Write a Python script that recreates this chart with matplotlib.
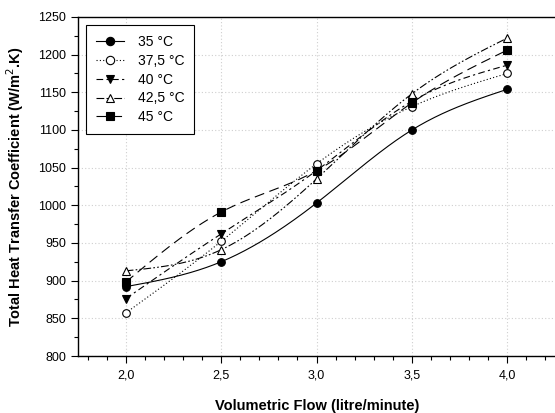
import matplotlib
matplotlib.use("Agg")
import matplotlib.pyplot as plt
import numpy as np
from matplotlib.ticker import MultipleLocator, FuncFormatter

plt.rcParams['font.family'] = ['Liberation Sans', 'DejaVu Sans']

flow = [2.0, 2.5, 3.0, 3.5, 4.0]
u_35 = [892, 925, 1003, 1100, 1154]
u_375 = [857, 952, 1055, 1131, 1175]
u_40 = [876, 962, 1046, 1138, 1186]
u_425 = [913, 941, 1035, 1148, 1222]
u_45 = [898, 991, 1046, 1136, 1206]
labels = ["35 °C", "37,5 °C", "40 °C", "42,5 °C", "45 °C"]


def spline(x, y, n=200):
    # natural cubic spline, only for drawing the smooth line
    x = np.asarray(x, float)
    y = np.asarray(y, float)
    k = len(x)
    h = np.diff(x)
    A = np.zeros((k, k))
    b = np.zeros(k)
    A[0, 0] = A[-1, -1] = 1
    for i in range(1, k - 1):
        A[i, i - 1] = h[i - 1]
        A[i, i] = 2 * (h[i - 1] + h[i])
        A[i, i + 1] = h[i]
        b[i] = 6 * ((y[i + 1] - y[i]) / h[i] - (y[i] - y[i - 1]) / h[i - 1])
    M = np.linalg.solve(A, b)
    xs = np.linspace(x[0], x[-1], n)
    ys = np.empty_like(xs)
    for j, t in enumerate(xs):
        i = min(np.searchsorted(x, t, side="right") - 1, k - 2)
        a = x[i + 1] - t
        c = t - x[i]
        ys[j] = (M[i] * a**3 + M[i + 1] * c**3) / (6 * h[i]) \
            + (y[i] / h[i] - M[i] * h[i] / 6) * a \
            + (y[i + 1] / h[i] - M[i + 1] * h[i] / 6) * c
    return xs, ys


fig = plt.figure(figsize=(5.55, 4.13), dpi=100)
ax = fig.add_axes([0.1405, 0.138, 0.863, 0.821])

series = [u_35, u_375, u_40, u_425, u_45]
markers = ["o", "o", "v", "^", "s"]
faces = ["black", "white", "black", "white", "black"]
styles = ["-", (0, (1, 2)), (0, (6, 3, 2, 3)), (0, (7, 2, 1.5, 2, 1.5, 2)), (0, (9, 5))]

for yv, m, fc, ls, lab in zip(series, markers, faces, styles, labels):
    xs, ys = spline(flow, yv)
    ax.plot(xs, ys, color="black", lw=0.8, linestyle=ls)
    ax.plot(flow, yv, linestyle="none", marker=m, mfc=fc, mec="black",
            ms=5.5, mew=0.8)
    ax.plot([], [], color="black", lw=0.8, linestyle=ls, marker=m, mfc=fc,
            mec="black", ms=6, mew=0.8, label=lab)

ax.set_xlim(1.75, 4.26)
ax.set_ylim(800, 1250)
ax.xaxis.set_major_locator(MultipleLocator(0.5))
ax.xaxis.set_minor_locator(MultipleLocator(0.1))
ax.yaxis.set_major_locator(MultipleLocator(50))
ax.yaxis.set_minor_locator(MultipleLocator(25))
ax.xaxis.set_major_formatter(FuncFormatter(lambda v, p: f"{v:.1f}".replace(".", ",")))
ax.tick_params(which="both", direction="out", labelsize=9, width=0.8)
ax.tick_params(which="major", length=5)
ax.tick_params(which="minor", length=3)
ax.tick_params(axis="x", pad=5)
ax.grid(True, which="major", linestyle=(0, (1, 2)), color="#cfcfcf", lw=0.8)
for s in ax.spines.values():
    s.set_linewidth(1.0)

ax.set_xlabel("Volumetric Flow (litre/minute)", fontsize=10.5, fontweight="bold",
              labelpad=12)
ax.set_ylabel("Total Heat Transfer Coefficient (W/m$^2$.K)", fontsize=10.5,
              fontweight="bold", labelpad=9)

leg = ax.legend(loc="upper left", bbox_to_anchor=(0.017, 0.976), fontsize=10,
                fancybox=False, edgecolor="black", framealpha=1,
                handlelength=2.0, labelspacing=0.35, borderpad=0.7,
                borderaxespad=0, handletextpad=1.0)
leg.get_frame().set_linewidth(0.8)

fig.savefig("out.png", dpi=100)
